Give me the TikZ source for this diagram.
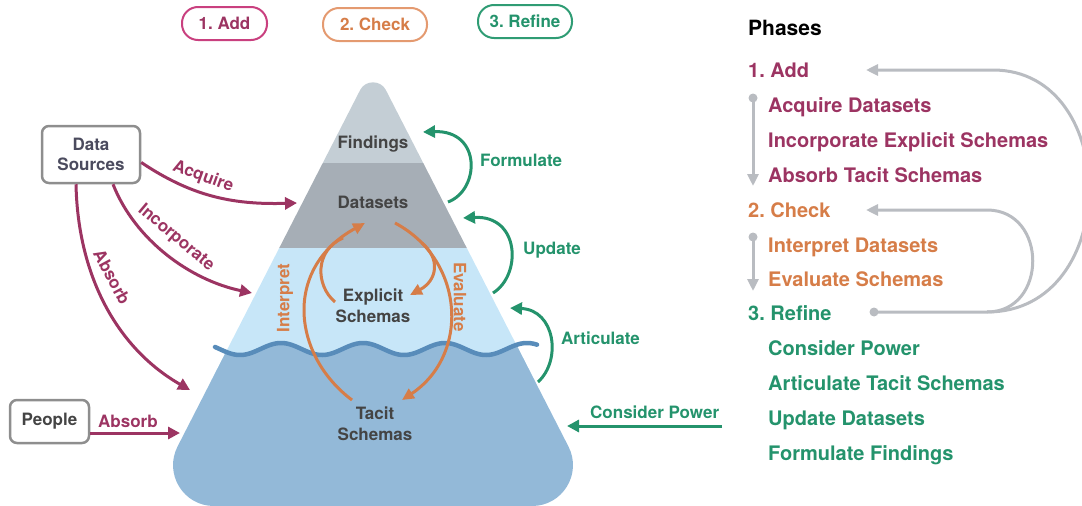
\documentclass[tikz,border=0pt]{standalone}
\usepackage{fontspec}
\setmainfont{TeX Gyre Heros}
\usetikzlibrary{arrows.meta}
\frenchspacing
\definecolor{purp}{RGB}{156,52,98}
\definecolor{purpb}{RGB}{201,64,127}
\definecolor{oran}{RGB}{214,125,72}
\definecolor{oranb}{RGB}{228,154,112}
\definecolor{gre}{RGB}{36,147,108}
\definecolor{greb}{RGB}{47,156,116}
\definecolor{findc}{RGB}{196,206,213}
\definecolor{datac}{RGB}{166,174,182}
\definecolor{explc}{RGB}{199,230,248}
\definecolor{tacc}{RGB}{147,185,216}
\definecolor{wavec}{RGB}{88,140,186}
\definecolor{txtc}{RGB}{68,68,68}
\definecolor{boxtxt}{RGB}{75,75,94}
\definecolor{boxc}{RGB}{142,142,142}
\definecolor{loopc}{RGB}{185,188,193}
\tikzset{
  lbl/.style={font=\fontsize{17}{21}\selectfont\bfseries, inner sep=0pt},
  lst/.style={font=\fontsize{20}{24}\selectfont\bfseries, inner sep=0pt, anchor=base west},
  srcbox/.style={draw=boxc, line width=2.5pt, rounded corners=7pt, fill=white, inner sep=0pt, align=center, text=boxtxt, font=\fontsize{17}{20}\selectfont\bfseries},
  pill/.style={rounded corners=16pt, line width=2pt, minimum height=33pt, inner sep=0pt, font=\fontsize{17}{21}\selectfont\bfseries},
  parrow/.style={draw=purp, line width=3pt, -{Triangle[length=12pt,width=12pt]}},
  garrow/.style={draw=gre, line width=3pt, -{Triangle[length=12pt,width=12pt]}},
  oarrow/.style={draw=oran, line width=3pt, -{Triangle[length=12pt,width=11pt]}},
  oline/.style={draw=oran, line width=3pt},
  grayarrow/.style={draw=loopc, line width=3pt, -{Triangle[length=12pt,width=11pt]}},
  grayline/.style={draw=loopc, line width=3pt},
  gdot/.style={circle, fill=loopc, minimum size=9pt, inner sep=0pt},
}
\begin{document}
\begin{tikzpicture}[x=1pt,y=-1pt]
\useasboundingbox (0,0) rectangle (1082,506);
% iceberg
\begin{scope}
\clip (214,506) .. controls (183.3,506) and (163.6,473.7) .. (177.6,446.4) -- (360.2,89.9) .. controls (365.4,79.8) and (380.6,79.8) .. (385.8,89.9) -- (568.4,446.4) .. controls (582.4,473.7) and (562.7,506) .. (532,506) -- cycle;
\fill[findc] (100,50) rectangle (650,163);
\fill[datac] (100,163) rectangle (650,248);
\fill[explc] (100,248) rectangle (650,380);
\fill[tacc] (100,520) -- plot[domain=100:650,samples=220] (\x,{349+6*cos(4.3902*(\x-240))}) -- (650,520) -- cycle;
\end{scope}
\draw[wavec, line width=4.5pt, line cap=round] plot[domain=215:537,samples=160] (\x,{349+6*cos(4.3902*(\x-240))});

% orange cycle
\coordinate (iS1) at (352,400);
\coordinate (iE) at (365,223);
\coordinate (iS2) at (335,302);
\coordinate (iM) at (343,238);
\coordinate (eS) at (395,223);
\coordinate (eM) at (422,243);
\coordinate (eE1) at (410,295);
\coordinate (eE2) at (402,400);
\draw[oarrow] (iS1) .. controls (292,355) and (283,268) .. (iE);
\draw[oline] (iS2) .. controls (315,285) and (315,250) .. (iM);
\draw[oarrow] (eS) .. controls (465,260) and (470,355) .. (eE2);
\draw[oarrow] (eM) .. controls (440,258) and (438,280) .. (eE1);
\node[lbl, text=oran, rotate=90] (interp) at (285,298) {Interpret};
\node[lbl, text=oran, rotate=-90] (evalu) at (460,297) {Evaluate};

% iceberg labels
\node[lbl, text=txtc, anchor=base] (find) at (373,148) {Findings};
\node[lbl, text=txtc, anchor=base] (dset) at (373,208) {Datasets};
\node[lbl, text=txtc, align=center] (expl) at (373,306) {Explicit\\Schemas};
\node[lbl, text=txtc, align=center] (tacit) at (375,424) {Tacit\\Schemas};

% pills
\node[pill, draw=purpb, text=purp, minimum width=85pt] (p1) at (224.5,23.5) {1. Add};
\node[pill, draw=oranb, text=oran, minimum width=104pt] (p2) at (375,24.5) {2. Check};
\node[pill, draw=greb, text=gre, minimum width=94pt] (p3) at (525,21.5) {3. Refine};

% sources
\node[srcbox, minimum width=98pt, minimum height=57pt] (ds) at (91,154.5) {Data\\Sources};
\node[srcbox, minimum width=79pt, minimum height=43pt, text=txtc] (pp) at (49.5,421.5) {People};
\coordinate (acqE) at (297,203);
\coordinate (incE) at (252,293);
\coordinate (absE) at (190,390);
\coordinate (ab2E) at (180,433);
\draw[parrow] (ds.-9) .. controls (190,195) and (230,205) .. (acqE);
\draw[parrow] ([xshift=22pt]ds.south) .. controls (135,240) and (190,280) .. (incE);
\draw[parrow] ([xshift=-15pt]ds.south) .. controls (78,280) and (120,350) .. (absE);
\draw[parrow] ([yshift=-11.5pt]pp.east) -- (ab2E);
\node[lbl, text=purp, rotate=-20] (lacq) at (203,177) {Acquire};
\node[lbl, text=purp, rotate=-40] (linc) at (176,238) {Incorporate};
\node[lbl, text=purp, rotate=-62] (labs) at (112,277) {Absorb};
\node[lbl, text=purp, anchor=base west] (labs2) at (98,427) {Absorb};

% green refine arrows
\coordinate (fS) at (448,202);
\coordinate (fE) at (423,132);
\coordinate (uS) at (493,293);
\coordinate (uE) at (463,218);
\coordinate (aS) at (538,382);
\coordinate (aE) at (510,308);
\coordinate (cS) at (722,426);
\coordinate (cE) at (567,426);
\draw[garrow] (fS) .. controls (480,190) and (482,130) .. (fE);
\draw[garrow] (uS) .. controls (522,275) and (520,215) .. (uE);
\draw[garrow] (aS) .. controls (562,360) and (555,310) .. (aE);
\draw[garrow] (cS) -- (cE);
\node[lbl, text=gre, anchor=base west] (lform) at (480,166) {Formulate};
\node[lbl, text=gre, anchor=base west] (lupd) at (523,254) {Update};
\node[lbl, text=gre, anchor=base west] (lart) at (561,344) {Articulate};
\node[lbl, text=gre, anchor=base west] (lcon) at (590,418) {Consider Power};

% phases panel
\node[lst, text=black, font=\fontsize{21}{24}\selectfont\bfseries] (ph) at (748,35) {Phases};
\node[lst, text=purp] (h1) at (748,77) {1. Add};
\node[lst, text=purp] (s11) at (768,112) {Acquire Datasets};
\node[lst, text=purp] (s12) at (768,147) {Incorporate Explicit Schemas};
\node[lst, text=purp] (s13) at (768,182) {Absorb Tacit Schemas};
\node[lst, text=oran] (h2) at (748,217) {2. Check};
\node[lst, text=oran] (s21) at (768,252) {Interpret Datasets};
\node[lst, text=oran] (s22) at (768,286) {Evaluate Schemas};
\node[lst, text=gre] (h3) at (748,320) {3. Refine};
\node[lst, text=gre] (s31) at (768,355) {Consider Power};
\node[lst, text=gre] (s32) at (768,390) {Articulate Tacit Schemas};
\node[lst, text=gre] (s33) at (768,425) {Update Datasets};
\node[lst, text=gre] (s34) at (768,460) {Formulate Findings};

\node[gdot] (d1) at (753,98) {};
\node[gdot] (d2) at (753,237) {};
\node[gdot] (d3) at (874,312) {};
\coordinate (t1) at (753,186);
\coordinate (t2) at (753,291);
\coordinate (lA) at (866,70);
\coordinate (lC) at (866,210);
\coordinate (lJ) at (987,312);
\draw[grayarrow] (d1.center) -- (t1);
\draw[grayarrow] (d2.center) -- (t2);
\draw[grayarrow] (d3.center) -- (lJ) .. controls (1048,312) and (1048,210) .. (987,210) -- (lC);
\draw[grayarrow] (lJ) .. controls (1122,312) and (1122,70) .. (993,70) -- (lA);
\end{tikzpicture}
\end{document}
